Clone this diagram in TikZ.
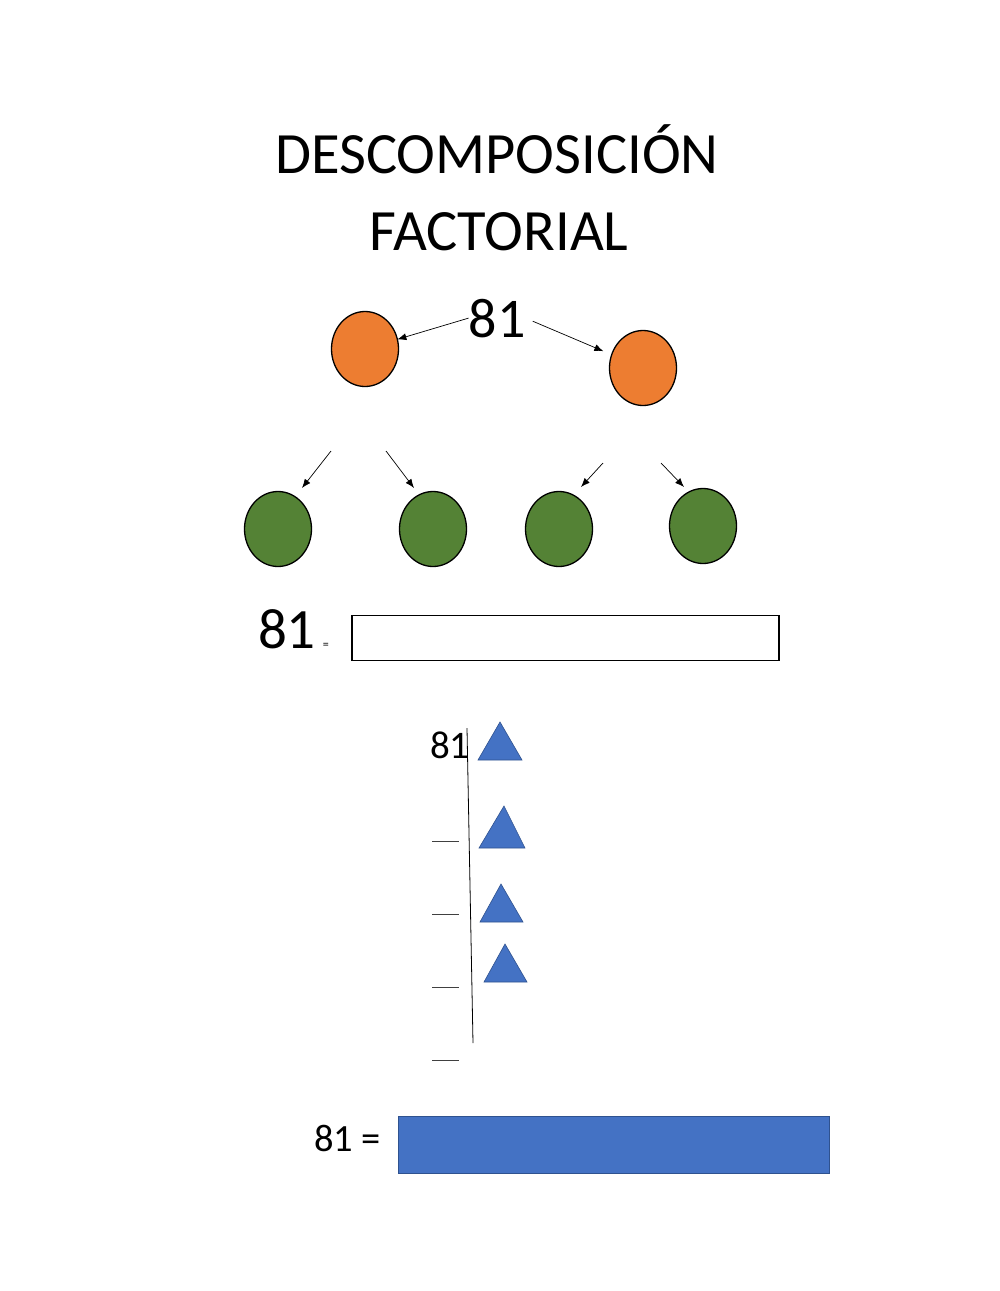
\documentclass[tikz,border=0pt]{standalone}
\usepackage{fontspec}
\setmainfont{Carlito}
\usetikzlibrary{arrows.meta,positioning,shapes.geometric}
\definecolor{factorange}{HTML}{ED7D31}
\definecolor{factgreen}{HTML}{548235}
\definecolor{factblue}{HTML}{4472C4}
\definecolor{factbluedark}{HTML}{2F528F}

\begin{document}
\begin{tikzpicture}[
  x=1pt, y=-1pt,
  every node/.style={inner sep=0pt, outer sep=0pt},
  ttl/.style={anchor=base, font=\fontsize{58.5}{70}\selectfont},
  bignum/.style={anchor=base west, font=\fontsize{57}{68}\selectfont},
  ball/.style={ellipse, draw=black, line width=1.3pt, minimum width=67pt, minimum height=75pt},
  orangeball/.style={ball, fill=factorange},
  greenball/.style={ball, fill=factgreen},
  arrow/.style={-{Latex[length=9pt,width=7pt]}, line width=0.7pt},
  tri/.style={fill=factblue, draw=factbluedark, line width=0.6pt},
  slot/.style={draw=black!75, line width=0.9pt}
]
\fill[white] (0,0) rectangle (1000,1291);
\useasboundingbox (0,0) rectangle (1000,1291);

% title
\node[ttl] (title1) at (497,173) {DESCOMPOSICIÓN};
\node[ttl] (title2) at (499,250) {FACTORIAL};

% factor tree
\node[anchor=base, font=\fontsize{56}{67}\selectfont] (top81) at (497,337) {81};
\node[orangeball] (o1) at (365,349) {};
\node[orangeball] (o2) at (643,368) {};
\node[greenball] (g1) at (278,529) {};
\node[greenball] (g2) at (433,529) {};
\node[greenball] (g3) at (559,529) {};
\node[greenball] (g4) at (703,526) {};

\draw[arrow] (top81.west) -- (o1);
\draw[arrow, shorten <=8pt, shorten >=9pt] (top81.east) -- (o2);

\coordinate (d1s) at (331,451); \coordinate (d1e) at (302,488);
\coordinate (d2s) at (386,451); \coordinate (d2e) at (414,488);
\coordinate (d3s) at (603,463); \coordinate (d3e) at (581,487);
\coordinate (d4s) at (661,463); \coordinate (d4e) at (684,487);
\draw[arrow] (d1s) -- (d1e);
\draw[arrow] (d2s) -- (d2e);
\draw[arrow] (d3s) -- (d3e);
\draw[arrow] (d4s) -- (d4e);

% first answer
\node[bignum] (left81) at (258,648) {81};
\node[anchor=base west, font=\fontsize{12}{14}\selectfont] (eqsmall) at ([xshift=7pt]left81.base east) {=};
\node[draw=black, line width=1.6pt, fill=white, minimum width=427pt, minimum height=45pt] (answerbox) at (565.5,638) {};

% division ladder
\node[anchor=base west, font=\fontsize{39}{47}\selectfont] (div81) at (430,758) {81};
\draw[line width=0.8pt] (467,728) -- (473,1043);
\filldraw[tri] (478,760) -- (500,722) -- (522,760) -- cycle;
\filldraw[tri] (479,848) -- (504,806) -- (525,848) -- cycle;
\filldraw[tri] (480,922) -- (501,884) -- (523,922) -- cycle;
\filldraw[tri] (484,982) -- (505,944) -- (527,982) -- cycle;
\draw[slot] (432,841) -- (459,841);
\draw[slot] (432,914) -- (459,914);
\draw[slot] (432,987) -- (459,987);
\draw[slot] (432,1060) -- (459,1060);

% result
\node[anchor=base west, font=\fontsize{38.5}{46}\selectfont] (res81) at (314,1151) {81 =};
\node[fill=factblue, draw=factbluedark, line width=0.6pt, minimum width=431pt, minimum height=57pt] (resultbox) at (613.5,1145) {};
\end{tikzpicture}
\end{document}
